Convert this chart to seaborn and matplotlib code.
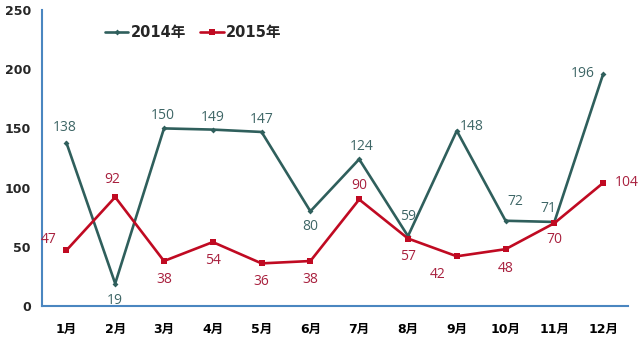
import matplotlib
matplotlib.use("Agg")
import matplotlib.pyplot as plt
import matplotlib.colors as mcolors
import seaborn as sns
import pandas as pd
import numpy as np

months = ["1月", "2月", "3月", "4月", "5月", "6月", "7月", "8月", "9月", "10月", "11月", "12月"]
y2014 = [138, 19, 150, 149, 147, 80, 124, 59, 148, 72, 71, 196]
y2015 = [47, 92, 38, 54, 36, 38, 90, 57, 42, 48, 70, 104]
series_names = ["2014年", "2015年"]

sns.set_theme(style="white")
plt.rcParams['font.family'] = ['DejaVu Sans', 'Noto Sans CJK SC']

c14 = "#2F5F5C"
c15 = "#C00A22"
lab14 = "#3E6666"
lab15 = "#A8203E"
axis_c = "#4A86C0"

idx = np.arange(len(months))
df = pd.DataFrame({
    "x": np.concatenate([idx, idx]),
    "v": y2014 + y2015,
    "s": [series_names[0]] * 12 + [series_names[1]] * 12,
})

fig = plt.figure(figsize=(6.4, 3.45), dpi=100)
ax = fig.add_axes([0.0656, 0.113, 0.915, 0.858])

sns.lineplot(data=df, x="x", y="v", hue="s", style="s",
             palette={series_names[0]: c14, series_names[1]: c15},
             markers={series_names[0]: "D", series_names[1]: "s"},
             dashes=False, linewidth=1.9, markersize=5, markeredgewidth=0,
             ax=ax)
for line in ax.get_lines():
    if mcolors.to_hex(line.get_color()).lower() == c14.lower():
        line.set_markersize(3.0)

ax.set_xlim(-0.5, 11.5)
ax.set_ylim(0, 250)
ax.set_yticks([0, 50, 100, 150, 200, 250])
ax.set_xticks(idx)
ax.set_xticklabels(months, fontweight="bold", fontsize=9, family=['DejaVu Sans', 'Noto Sans CJK SC'])
ax.set_xticks(np.arange(-0.5, 12.0, 1.0), minor=True)
ax.tick_params(axis="x", which="major", length=0, pad=12, colors="black")
ax.tick_params(axis="x", which="minor", length=4, direction="out", color=axis_c, width=1.2)
ax.tick_params(axis="y", length=4, direction="out", color=axis_c, width=1.2, labelsize=9, pad=4)
for t in ax.get_yticklabels():
    t.set_fontweight("bold")
ax.set_xlabel("")
ax.set_ylabel("")
for sp in ["top", "right"]:
    ax.spines[sp].set_visible(False)
for sp in ["left", "bottom"]:
    ax.spines[sp].set_color(axis_c)
    ax.spines[sp].set_linewidth(1.5)

# data labels (offsets in points)
off14 = [(-1, 11), (0, -12), (-1, 9), (0, 9), (0, 9), (0, -11), (2, 9), (0, 14), (11, 3), (7, 14), (-4, 10), (-15, 0)]
off15 = [(-13, 8), (-2, 13), (0, -13), (0, -13), (0, -13), (0, -13), (0, 10), (0, -13), (-14, -13), (0, -14), (0, -12), (17, 0)]
lab_font = ['Open Sans', 'DejaVu Sans']
for i, v in enumerate(y2014):
    ax.annotate(str(v), (idx[i], v), xytext=off14[i], textcoords="offset points",
                ha="center", va="center", fontsize=10, color=lab14, family=lab_font)
for i, v in enumerate(y2015):
    ax.annotate(str(v), (idx[i], v), xytext=off15[i], textcoords="offset points",
                ha="center", va="center", fontsize=10, color=lab15, family=lab_font)

leg = ax.legend(loc="upper left", bbox_to_anchor=(0.085, 0.995), ncol=2, frameon=False,
                handlelength=1.6, handletextpad=0.15, columnspacing=1.0,
                prop={"weight": "bold", "size": 10.5, "family": ['DejaVu Sans', 'Noto Sans CJK SC']})

fig.savefig("out.png", dpi=100)
